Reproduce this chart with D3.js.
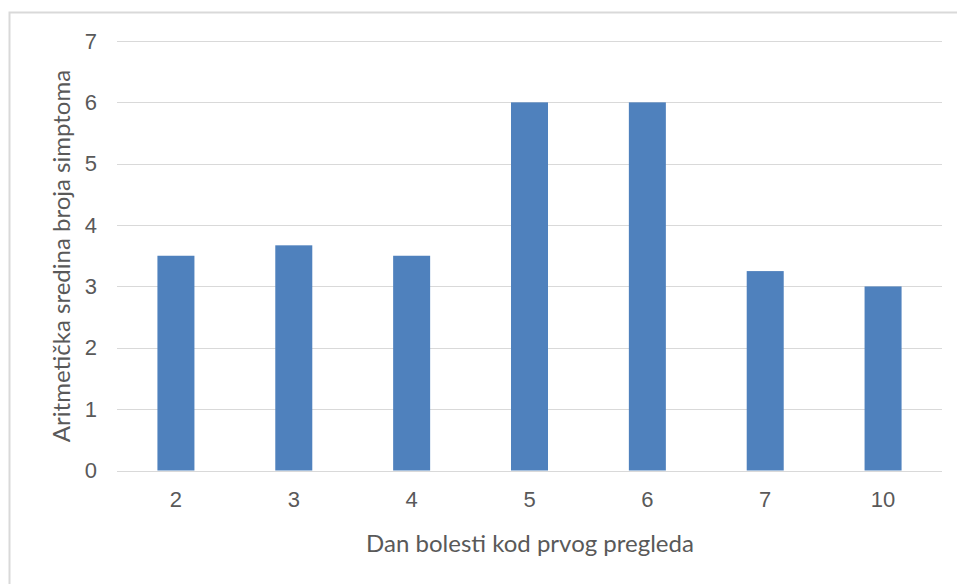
<!DOCTYPE html>
<html lang="en">
<head>
  <meta charset="UTF-8">
  <title>Aritmetička sredina broja simptoma</title>
  <script src="https://d3js.org/d3.v7.min.js"></script>
  <style>
    body { margin: 0; background: #fff; font-family: Lato, "Open Sans", sans-serif; }
    .tick text { fill: #595959; font-size: 22px; }
  </style>
</head>
<body>
  <div id="chart"></div>
  <script>
    // chart data
    const days = ["2", "3", "4", "5", "6", "7", "10"];
    const meanSymptoms = [3.5, 3.67, 3.5, 6, 6, 3.25, 3];
    const yTicks = [0, 1, 2, 3, 4, 5, 6, 7];

    const width = 957, height = 584;
    const margin = { top: 41, right: 15, bottom: 113.5, left: 117 };

    const svg = d3.select("#chart").append("svg").attr("width", width).attr("height", height);

    // chart border (cropped on right and bottom like the original)
    svg.append("rect")
      .attr("x", 9.5).attr("y", 12.5)
      .attr("width", width).attr("height", height)
      .attr("fill", "none").attr("stroke", "#d9d9d9").attr("stroke-width", 2);

    const x = d3.scaleBand().domain(days).range([margin.left, width - margin.right]).paddingInner(0.686).paddingOuter(0.343);
    const y = d3.scaleLinear().domain([0, 7]).range([height - margin.bottom, margin.top]);

    // gridlines
    svg.append("g")
      .selectAll("line")
      .data(yTicks)
      .enter().append("line")
      .attr("x1", margin.left).attr("x2", width - margin.right)
      .attr("y1", d => Math.round(y(d)) + 0.5).attr("y2", d => Math.round(y(d)) + 0.5)
      .attr("stroke", "#d9d9d9").attr("stroke-width", 1.2);

    // bars
    svg.append("g")
      .selectAll("rect")
      .data(meanSymptoms)
      .enter().append("rect")
      .attr("x", (d, i) => x(days[i]))
      .attr("y", d => y(d))
      .attr("width", x.bandwidth())
      .attr("height", d => y(0) - y(d))
      .attr("fill", "#4f81bd");

    // axes
    const yAxis = svg.append("g").attr("transform", `translate(${margin.left - 10},0)`)
      .call(d3.axisLeft(y).tickValues(yTicks).tickFormat(d3.format("d")).tickSize(0).tickPadding(10));
    yAxis.select(".domain").remove();

    const xAxis = svg.append("g").attr("transform", `translate(0,${y(0)})`)
      .call(d3.axisBottom(x).tickSize(0).tickPadding(21));
    xAxis.select(".domain").remove();

    // axis titles
    svg.append("text")
      .attr("x", 530).attr("y", 552)
      .attr("text-anchor", "middle").attr("fill", "#595959").style("font-size", "24px")
      .text("Dan bolesti kod prvog pregleda");

    svg.append("text")
      .attr("transform", "translate(70,256) rotate(-90)")
      .attr("text-anchor", "middle").attr("fill", "#595959").style("font-size", "24px")
      .text("Aritmetička sredina broja simptoma");
  </script>
</body>
</html>
